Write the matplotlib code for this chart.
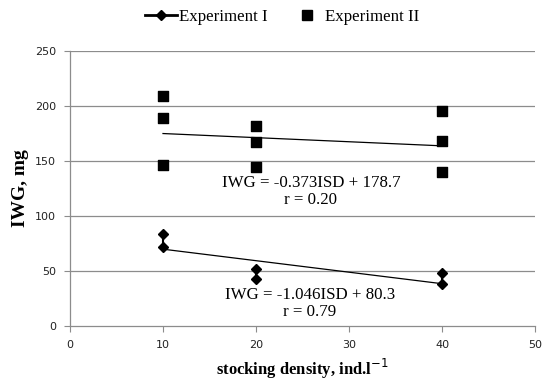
import matplotlib
matplotlib.use("Agg")
import matplotlib.pyplot as plt
import numpy as np
from matplotlib.lines import Line2D

# Data
exp1_x = [10, 10, 20, 20, 40, 40]
exp1_y = [84, 72, 52, 43, 48, 38]
exp2_x = [10, 10, 10, 20, 20, 20, 40, 40, 40]
exp2_y = [209, 189, 146, 182, 167, 145, 195, 168, 140]

# Trend line coefficients (from the equations on the chart)
trend1 = (-1.046, 80.3)
trend2 = (-0.373, 178.7)
trend_range = [10, 40]

eq1_text = ["IWG = -1.046ISD + 80.3", "r = 0.79"]
eq2_text = ["IWG = -0.373ISD + 178.7", "r = 0.20"]

x_ticks = [0, 10, 20, 30, 40, 50]
y_ticks = [0, 50, 100, 150, 200, 250]

fig = plt.figure(figsize=(5.45, 3.82), dpi=100)
ax = fig.add_axes([70/545, 1-326/382, (535-70)/545, (326-51)/382])

serif = "Liberation Serif"
grid_col = "#8c8c8c"

for y in y_ticks[1:]:
    ax.axhline(y, color=grid_col, lw=0.9, zorder=0)

# Experiment I: points connected within each density group
for xv in sorted(set(exp1_x)):
    ys = [y for x, y in zip(exp1_x, exp1_y) if x == xv]
    ax.plot([xv]*len(ys), ys, color="black", lw=1.5, marker="D", ms=5.5, zorder=3)

ax.scatter(exp2_x, exp2_y, marker="s", s=60, color="black", zorder=3)

xr = np.array(trend_range, dtype=float)
ax.plot(xr, trend1[0]*xr + trend1[1], color="black", lw=0.9, zorder=2)
ax.plot(xr, trend2[0]*xr + trend2[1], color="black", lw=0.9, zorder=2)

fs_eq = 12.2
ax.text(26.0, 130, eq2_text[0], fontfamily=serif, fontsize=fs_eq, ha="center", va="center")
ax.text(25.9, 114.5, eq2_text[1], fontfamily=serif, fontsize=fs_eq, ha="center", va="center")
ax.text(25.8, 28, eq1_text[0], fontfamily=serif, fontsize=fs_eq, ha="center", va="center")
ax.text(25.8, 12.5, eq1_text[1], fontfamily=serif, fontsize=fs_eq, ha="center", va="center")

ax.set_xlim(0, 50)
ax.set_ylim(0, 250)
ax.set_xticks(x_ticks)
ax.set_yticks(y_ticks)
ax.tick_params(axis="both", direction="out", length=4, color=grid_col, labelsize=8,
               labelcolor="#222222", pad=6)
for lab in ax.get_xticklabels() + ax.get_yticklabels():
    lab.set_fontfamily("DejaVu Sans")

for side in ["top", "right"]:
    ax.spines[side].set_visible(False)
for side in ["left", "bottom"]:
    ax.spines[side].set_color(grid_col)
    ax.spines[side].set_linewidth(0.9)

ax.set_xlabel("stocking density, ind.l$^{-1}$", fontfamily=serif, fontweight="bold", fontsize=12, labelpad=5)
ax.set_ylabel("IWG, mg", fontfamily=serif, fontweight="bold", fontsize=14, labelpad=4)

handles = [
    Line2D([0], [0], color="black", lw=2, marker="D", ms=5, markevery=[1], linestyle="-"),
    Line2D([0], [0], color="black", lw=0, marker="s", ms=7),
]
handles[0].set_data([0, 0.5, 1], [0, 0, 0])
leg = fig.legend(handles, ["Experiment I", "Experiment II"], loc="center",
                 bbox_to_anchor=(0.518, 1-17/382), ncol=2, frameon=False,
                 prop={"family": serif, "size": 12.2}, handlelength=1.9,
                 handletextpad=0.1, columnspacing=1.4)

fig.savefig("out.png", dpi=100)
